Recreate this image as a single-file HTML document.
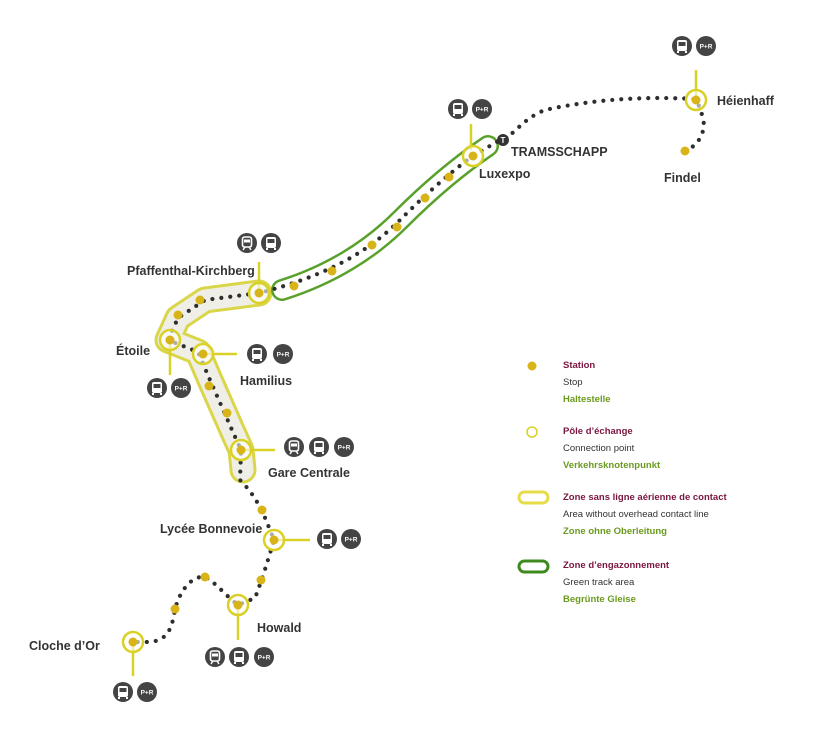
<!DOCTYPE html>
<html><head><meta charset="utf-8"><style>
html,body{margin:0;padding:0;background:#fff;}
svg{display:block;font-family:"Liberation Sans",sans-serif;}
.lbl{font-size:12.5px;font-weight:bold;fill:#333;}
.pr{font-size:6.5px;fill:#fff;font-weight:bold;text-anchor:middle;}
</style></head><body>
<svg width="820" height="756" viewBox="0 0 820 756" xmlns="http://www.w3.org/2000/svg">
<defs>
<g id="bus"><circle r="10" fill="#444"/><rect x="-5" y="-6" width="10" height="11" rx="2" fill="#fff"/><rect x="-3.5" y="-4" width="7" height="4" fill="#444"/><rect x="-5" y="5" width="2" height="2" fill="#fff"/><rect x="3" y="5" width="2" height="2" fill="#fff"/></g>
<g id="tram"><circle r="10" fill="#444"/><rect x="-4.5" y="-6" width="9" height="10" rx="2" fill="none" stroke="#fff" stroke-width="1.6"/><rect x="-3" y="-3.5" width="6" height="3" fill="#fff"/><path d="M-4 7 L-2 4 M4 7 L2 4" stroke="#fff" stroke-width="1.4"/></g>
<g id="pr"><circle r="10" fill="#444"/><text y="2.5" class="pr">P+R</text></g>
</defs>

<g fill="none" stroke-linecap="round" stroke-linejoin="round">
<path d="M259,293 L205,300 L178,318 L168,340 L198,352 L210,380 L232,430 L241,450 L243,470" stroke="#d9d64a" stroke-width="27"/>
<path d="M259,293 L205,300 L178,318 L168,340 L198,352 L210,380 L232,430 L241,450 L243,470" stroke="#efefe8" stroke-width="21"/>
<path d="M282,290 C330,275 370,250 400,220 C430,190 460,165 488,146" stroke="#5aa12c" stroke-width="22"/>
<path d="M282,290 C330,275 370,250 400,220 C430,190 460,165 488,146" stroke="#fff" stroke-width="17"/>
</g>

<path d="M685,151 C700,145 706,130 703,118 C700,108 698,102 694,99 C640,96 590,100 545,110 C520,120 515,136 500,140 L473,156 C450,172 420,200 400,220 C370,250 330,275 259,293 L205,300 L178,318 L168,340 L198,352 L210,380 L232,430 L241,450 L240,480 C255,495 262,510 268,525 L274,540 C268,560 262,580 255,598 L238,605 C225,595 215,582 205,577 C190,575 178,595 175,610 C172,625 170,640 150,642 L133,642" fill="none" stroke="#2e2e2e" stroke-width="4.2" stroke-dasharray="0 9" stroke-linecap="round"/>

<g fill="#d8b418">
<circle cx="685" cy="151" r="4.5"/>
<circle cx="294" cy="286" r="4.5"/><circle cx="332" cy="271" r="4.5"/><circle cx="372" cy="245" r="4.5"/><circle cx="397" cy="227" r="4.5"/><circle cx="425" cy="198" r="4.5"/><circle cx="449" cy="177" r="4.5"/>
<circle cx="200" cy="300" r="4.5"/><circle cx="178" cy="315" r="4.5"/>
<circle cx="209" cy="386" r="4.5"/><circle cx="227" cy="413" r="4.5"/>
<circle cx="262" cy="510" r="4.5"/><circle cx="261" cy="580" r="4.5"/>
<circle cx="205" cy="577" r="4.5"/><circle cx="175" cy="609" r="4.5"/>
</g>

<g stroke="#d9d126" stroke-width="2.5">
<line x1="696" y1="70" x2="696" y2="100"/>
<line x1="471" y1="124" x2="471" y2="150"/>
<line x1="259" y1="262" x2="259" y2="293"/>
<line x1="170" y1="340" x2="170" y2="375"/>
<line x1="203" y1="354" x2="237" y2="354"/>
<line x1="241" y1="450" x2="275" y2="450"/>
<line x1="274" y1="540" x2="310" y2="540"/>
<line x1="238" y1="605" x2="238" y2="640"/>
<line x1="133" y1="642" x2="133" y2="676"/>
</g>
<g fill="#fff" fill-opacity="0.6" stroke="#d9d126" stroke-width="2.5">
<circle cx="696" cy="100" r="10"/><circle cx="473" cy="156" r="10"/><circle cx="259" cy="293" r="10"/><circle cx="170" cy="340" r="10"/><circle cx="203" cy="354" r="10"/><circle cx="241" cy="450" r="10"/><circle cx="274" cy="540" r="10"/><circle cx="238" cy="605" r="10"/><circle cx="133" cy="642" r="10"/>
</g>
<g fill="#d8b418">
<circle cx="696" cy="100" r="4.5"/><circle cx="473" cy="156" r="4.5"/><circle cx="259" cy="293" r="4.5"/><circle cx="170" cy="340" r="4.5"/><circle cx="203" cy="354" r="4.5"/><circle cx="241" cy="450" r="4.5"/><circle cx="274" cy="540" r="4.5"/><circle cx="238" cy="605" r="4.5"/><circle cx="133" cy="642" r="4.5"/>
</g>

<circle cx="503" cy="140" r="6" fill="#333"/><text x="503" y="143" font-size="8" font-weight="bold" fill="#fff" text-anchor="middle">T</text>

<use href="#bus" x="682" y="46"/><use href="#pr" x="706" y="46"/>
<use href="#bus" x="458" y="109"/><use href="#pr" x="482" y="109"/>
<use href="#tram" x="247" y="243"/><use href="#bus" x="271" y="243"/>
<use href="#bus" x="257" y="354"/><use href="#pr" x="283" y="354"/>
<use href="#bus" x="157" y="388"/><use href="#pr" x="181" y="388"/>
<use href="#tram" x="294" y="447"/><use href="#bus" x="319" y="447"/><use href="#pr" x="344" y="447"/>
<use href="#bus" x="327" y="539"/><use href="#pr" x="351" y="539"/>
<use href="#tram" x="215" y="657"/><use href="#bus" x="239" y="657"/><use href="#pr" x="264" y="657"/>
<use href="#bus" x="123" y="692"/><use href="#pr" x="147" y="692"/>

<text class="lbl" x="717" y="105">Héienhaff</text>
<text class="lbl" x="664" y="182" font-size="15">Findel</text>
<text class="lbl" x="511" y="156">TRAMSSCHAPP</text>
<text class="lbl" x="479" y="178">Luxexpo</text>
<text class="lbl" x="127" y="275">Pfaffenthal-Kirchberg</text>
<text class="lbl" x="116" y="355">Étoile</text>
<text class="lbl" x="240" y="385">Hamilius</text>
<text class="lbl" x="268" y="477">Gare Centrale</text>
<text class="lbl" x="160" y="533">Lycée Bonnevoie</text>
<text class="lbl" x="257" y="632">Howald</text>
<text class="lbl" x="29" y="650" font-size="15">Cloche d’Or</text>

<g font-size="9.5">
<circle cx="532" cy="366" r="4.5" fill="#d8b418"/>
<text x="563" y="368" fill="#7a1640" font-weight="bold">Station</text>
<text x="563" y="385" fill="#333">Stop</text>
<text x="563" y="402" fill="#6a9a1e" font-weight="bold">Haltestelle</text>
<circle cx="532" cy="432" r="5" fill="none" stroke="#d9d126" stroke-width="1.5"/>
<text x="563" y="434" fill="#7a1640" font-weight="bold">Pôle d’échange</text>
<text x="563" y="451" fill="#333">Connection point</text>
<text x="563" y="468" fill="#6a9a1e" font-weight="bold">Verkehrsknotenpunkt</text>
<rect x="519" y="492" width="29" height="11" rx="5.5" fill="#fff" stroke="#e6dc4a" stroke-width="3"/>
<text x="563" y="500" fill="#7a1640" font-weight="bold">Zone sans ligne aérienne de contact</text>
<text x="563" y="517" fill="#333">Area without overhead contact line</text>
<text x="563" y="534" fill="#6a9a1e" font-weight="bold">Zone ohne Oberleitung</text>
<rect x="519" y="561" width="29" height="11" rx="5.5" fill="#fff" stroke="#3f8a1e" stroke-width="3"/>
<text x="563" y="568" fill="#7a1640" font-weight="bold">Zone d’engazonnement</text>
<text x="563" y="585" fill="#333">Green track area</text>
<text x="563" y="602" fill="#6a9a1e" font-weight="bold">Begrünte Gleise</text>
</g>
</svg>
</body></html>
